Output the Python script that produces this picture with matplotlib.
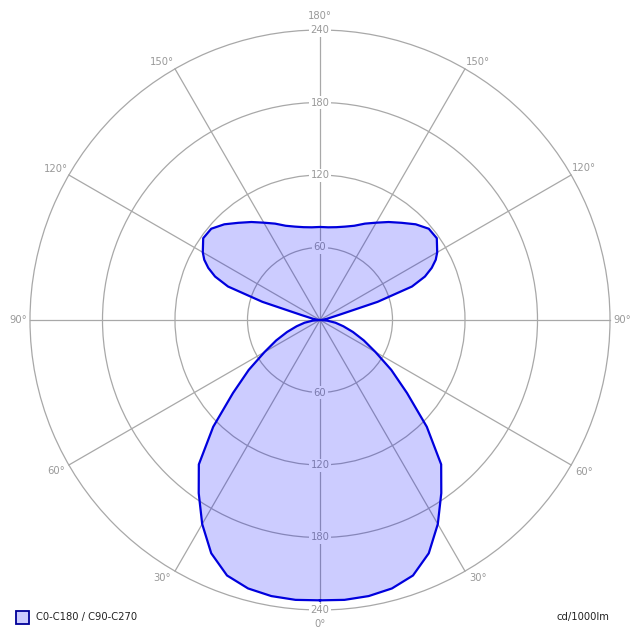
import numpy as np
import matplotlib
matplotlib.use("Agg")
import matplotlib.pyplot as plt
from matplotlib.patches import Rectangle

# Gamma angles (deg) and luminous intensity (cd/1000lm), symmetric curve
gamma = [0, 5, 10, 15, 20, 25, 30, 35, 40, 45, 50, 55, 60, 65, 70, 75, 80, 85, 90,
         95, 100, 105, 107.5, 110, 112.5, 115, 117.5, 120, 125, 130, 135, 140, 145, 150, 155, 160, 165, 170, 175, 180]
intensity = [232, 232.5, 232, 230, 225, 213, 195, 175, 156, 125, 94, 72, 53, 40, 29, 20, 13, 6, 0,
             2, 6, 16, 50, 81, 94, 102, 108, 112, 118, 117.5, 112, 105, 99, 93, 88, 83, 80, 78, 77, 77]
rings = [60, 120, 180, 240]
ring_labels = ["60", "120", "180", "240"]
spoke_angles = list(range(0, 360, 30))
spoke_labels = [f"{a if a <= 180 else 360 - a}°" for a in spoke_angles]
legend_label = "C0-C180 / C90-C270"
unit_label = "cd/1000lm"

g = np.array(gamma, dtype=float)
I = np.array(intensity, dtype=float)
theta = np.deg2rad(np.concatenate([g, 360 - g[::-1][1:]]))
r = np.concatenate([I, I[::-1][1:]])

fig = plt.figure(figsize=(6.4, 6.4), dpi=100)
ax = fig.add_axes([30 / 640, 30 / 640, 580 / 640, 580 / 640], projection="polar")
ax.set_theta_zero_location("S")
ax.set_theta_direction(-1)
ax.set_rlim(0, 240)
ax.set_rticks(rings)
ax.set_yticklabels([])
ax.set_thetagrids(spoke_angles, labels=[""] * len(spoke_angles))
ax.grid(True, color="#a8a8a8", lw=0.9)
ax.set_axisbelow(True)
ax.spines["polar"].set_visible(False)
for gl in ax.xaxis.get_gridlines() + ax.yaxis.get_gridlines():
    gl.set_zorder(0.5)
    gl.set_clip_on(False)

lab_col = "#999999"
for rv, lab in zip(rings, ring_labels):
    for ang in (0, 180):
        ax.text(np.deg2rad(ang), rv, lab, ha="center", va="center", fontsize=7.2,
                color=lab_col, zorder=1,
                bbox=dict(boxstyle="square,pad=0.15", fc="white", ec="none"))

for ang, lab in zip(spoke_angles, spoke_labels):
    a = np.deg2rad(ang)
    ux, uy = -np.sin(a), -np.cos(a)
    if abs(ux) < 0.01:
        ox, oy = 0, 14 * np.sign(uy)
    elif abs(uy) < 0.01:
        ox, oy = 12 * np.sign(ux), 0
    else:
        ox, oy = 13 * np.sign(ux), 6.5 * np.sign(uy)
    ax.annotate(lab, xy=(a, 240), xytext=(ox, oy), textcoords="offset pixels",
                ha="center", va="center", fontsize=7.2, color=lab_col,
                annotation_clip=False)

ax.fill(theta, r, facecolor=(0, 0, 1, 0.2), edgecolor="none", zorder=2)
ax.plot(np.append(theta, theta[0]), np.append(r, r[0]), color="#0000dd", lw=1.6, zorder=3)

fig.patches.append(Rectangle((15.5 / 640, 1 - 623.5 / 640), 13 / 640, 13 / 640,
                             transform=fig.transFigure, facecolor="#ccccff",
                             edgecolor="#000099", lw=1.3))
fig.text(36 / 640, 1 - 617 / 640, legend_label, fontsize=7.2, va="center", ha="left", color="#222222")
fig.text(609 / 640, 1 - 617 / 640, unit_label, fontsize=7.2, va="center", ha="right", color="#222222")

fig.savefig("out.png", dpi=100)
